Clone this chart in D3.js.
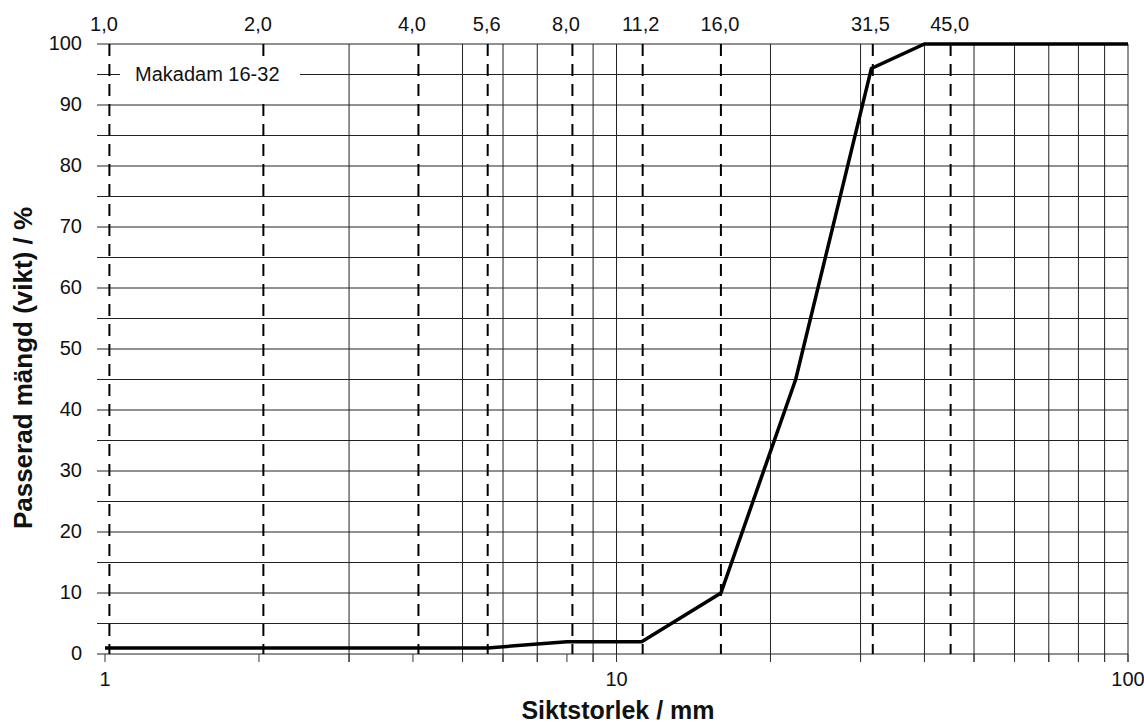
<!DOCTYPE html>
<html>
<head>
<meta charset="utf-8">
<script src="https://cdn.jsdelivr.net/npm/d3@7"></script>
<style>
  html, body { margin: 0; padding: 0; background: #fff; }
  svg { display: block; font-family: "Liberation Sans", Arial, sans-serif; }
</style>
</head>
<body>
<svg id="chart" width="1144" height="725"></svg>
<script>
// ---- data ----
const sieveSizes = [1, 5.6, 8, 11.2, 16, 22.4, 31.5, 40, 100];
const passingPercent = [1, 1, 2, 2, 10, 45, 96, 100, 100];
const sieveLabels = ["1,0", "2,0", "4,0", "5,6", "8,0", "11,2", "16,0", "31,5", "45,0"];
const sieveLabelValues = [1, 2, 4, 5.6, 8, 11.2, 16, 31.5, 45];
const sieveLinePositions = [1.02, 2.04, 4.1, 5.6, 8.2, 11.25, 16, 31.7, 45];
const xTickLabels = ["1", "10", "100"];
const xTickLabelValues = [1, 10, 100];
const xMinorTicks = [1, 2, 3, 4, 5, 6, 7, 8, 9, 10, 20, 30, 40, 50, 60, 70, 80, 90, 100];
const xGridValues = [3, 5, 6, 7, 9, 10, 20, 30, 40, 50, 60, 70, 80, 90, 100];
const yGridValues = d3.range(0, 101, 5);
const yTickLabelValues = d3.range(0, 101, 10);
const seriesName = "Makadam 16-32";
const xTitle = "Siktstorlek / mm";
const yTitle = "Passerad mängd (vikt) / %";

// ---- layout ----
const plotLeft = 105, plotRight = 1128, plotTop = 44, plotBottom = 654;
const svg = d3.select("#chart");
const x = d3.scaleLog().domain([1, 100]).range([plotLeft, plotRight]);
const y = d3.scaleLinear().domain([0, 100]).range([plotBottom, plotTop]);

// horizontal gridlines (every 5 %) with small left ticks
svg.append("g").selectAll("line").data(yGridValues).join("line")
  .attr("x1", plotLeft - 8).attr("x2", plotRight)
  .attr("y1", d => y(d)).attr("y2", d => y(d))
  .attr("stroke", "#222").attr("stroke-width", 1);

// vertical gridlines
svg.append("g").selectAll("line").data(xGridValues).join("line")
  .attr("x1", d => x(d)).attr("x2", d => x(d))
  .attr("y1", plotTop).attr("y2", plotBottom + 8)
  .attr("stroke", "#222").attr("stroke-width", 1);

// bottom ticks
svg.append("g").selectAll("line").data(xMinorTicks).join("line")
  .attr("x1", d => x(d)).attr("x2", d => x(d))
  .attr("y1", plotBottom).attr("y2", plotBottom + 8)
  .attr("stroke", "#333").attr("stroke-width", 1);

// y tick labels
svg.append("g").selectAll("text").data(yTickLabelValues).join("text")
  .attr("x", 82).attr("y", d => y(d) + 1)
  .attr("text-anchor", "end").attr("dominant-baseline", "middle")
  .attr("font-size", 20).attr("fill", "#111")
  .text(d => d);

// x tick labels
svg.append("g").selectAll("text").data(xTickLabelValues).join("text")
  .attr("x", d => x(d)).attr("y", 686)
  .attr("text-anchor", "middle")
  .attr("font-size", 20).attr("fill", "#111")
  .text((d, i) => xTickLabels[i]);

// dashed sieve lines
svg.append("g").selectAll("line").data(sieveLinePositions).join("line")
  .attr("x1", d => x(d)).attr("x2", d => x(d))
  .attr("y1", plotTop).attr("y2", plotBottom)
  .attr("stroke", "#000").attr("stroke-width", 2)
  .attr("stroke-dasharray", "12,8");

// sieve labels on top
svg.append("g").selectAll("text").data(sieveLabelValues).join("text")
  .attr("x", d => x(d) - 1).attr("y", 31)
  .attr("text-anchor", "middle")
  .attr("font-size", 20).attr("fill", "#111")
  .text((d, i) => sieveLabels[i]);

// legend box
svg.append("rect").attr("x", 120).attr("y", 56).attr("width", 180).attr("height", 40).attr("fill", "#fff");
svg.append("text").attr("x", 135).attr("y", y(95) + 1)
  .attr("dominant-baseline", "middle")
  .attr("font-size", 20).attr("fill", "#111")
  .text(seriesName);

// curve
const line = d3.line().x(d => x(d[0])).y(d => y(d[1]));
svg.append("path")
  .datum(sieveSizes.map((s, i) => [s, passingPercent[i]]))
  .attr("d", line)
  .attr("fill", "none").attr("stroke", "#000").attr("stroke-width", 3.5)
  .attr("stroke-linejoin", "miter");

// axis titles
svg.append("text").attr("x", 618).attr("y", 719)
  .attr("text-anchor", "middle").attr("font-weight", "bold")
  .attr("font-size", 25).attr("fill", "#111")
  .text(xTitle);
svg.append("text")
  .attr("transform", "translate(32,368) rotate(-90)")
  .attr("text-anchor", "middle").attr("font-weight", "bold")
  .attr("font-size", 26).attr("fill", "#111")
  .text(yTitle);
</script>
</body>
</html>
